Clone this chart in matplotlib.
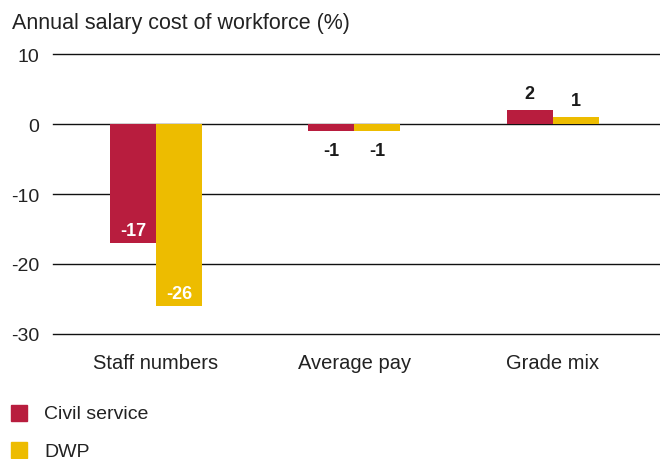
import matplotlib.pyplot as plt
import numpy as np

plt.rcParams['font.family'] = ['Liberation Sans', 'DejaVu Sans']

categories = ['Staff numbers', 'Average pay', 'Grade mix']
civil_service = [-17, -1, 2]
dwp = [-26, -1, 1]
y_ticks = [10, 0, -10, -20, -30]

red = '#B81D3E'
yellow = '#EDBC00'

fig = plt.figure(figsize=(6.6, 4.6), dpi=100)
ax = fig.add_axes([0.080, 0.272, 0.920, 0.608])

x = np.arange(len(categories))
w = 0.232
b1 = ax.bar(x - w / 2, civil_service, w, color=red, zorder=3)
b2 = ax.bar(x + w / 2, dwp, w, color=yellow, zorder=3)


def label_bars(bars, values):
    for bar, v in zip(bars, values):
        cx = bar.get_x() + bar.get_width() / 2
        if v <= -5:
            ax.text(cx, v + 0.6, str(v), ha='center', va='bottom', color='white',
                    fontsize=13, fontweight='bold', zorder=4)
        elif v < 0:
            ax.text(cx, v - 1.5, str(v), ha='center', va='top', color='#1a1a1a',
                    fontsize=13, fontweight='bold', zorder=4)
        else:
            ax.text(cx, v + 1.1, str(v), ha='center', va='bottom', color='#1a1a1a',
                    fontsize=13, fontweight='bold', zorder=4)


label_bars(b1, civil_service)
label_bars(b2, dwp)

ax.set_ylim(-30, 10)
ax.set_xlim(-0.52, 2.54)
ax.set_yticks(y_ticks)
ax.set_yticklabels([str(t) for t in y_ticks])
ax.yaxis.grid(True, color='#111111', linewidth=1.0, zorder=0)
for gl in ax.get_ygridlines():
    gl.set_clip_on(False)
ax.set_axisbelow(True)
for s in ax.spines.values():
    s.set_visible(False)
ax.tick_params(axis='y', length=0, labelsize=14, labelcolor='#222222', pad=9.5)
ax.tick_params(axis='x', length=0, labelsize=14.5, labelcolor='#222222', pad=14)
ax.set_xticks(x)
ax.set_xticklabels(categories)

fig.text(0.018, 0.950, 'Annual salary cost of workforce (%)', fontsize=15.5,
         color='#222222', va='center', ha='left')

# legend
for i, (name, col) in enumerate([('Civil service', red), ('DWP', yellow)]):
    yc = 1 - (413.5 + i * 37.5) / 460
    fig.patches.append(plt.Rectangle((11 / 660, yc - 8 / 460), 16 / 660, 16 / 460,
                                     transform=fig.transFigure, color=col))
    fig.text(44 / 660, yc - 6 / 460, name, fontsize=14, color='#222222',
             va='baseline', ha='left')

fig.savefig('out.png', dpi=100)
